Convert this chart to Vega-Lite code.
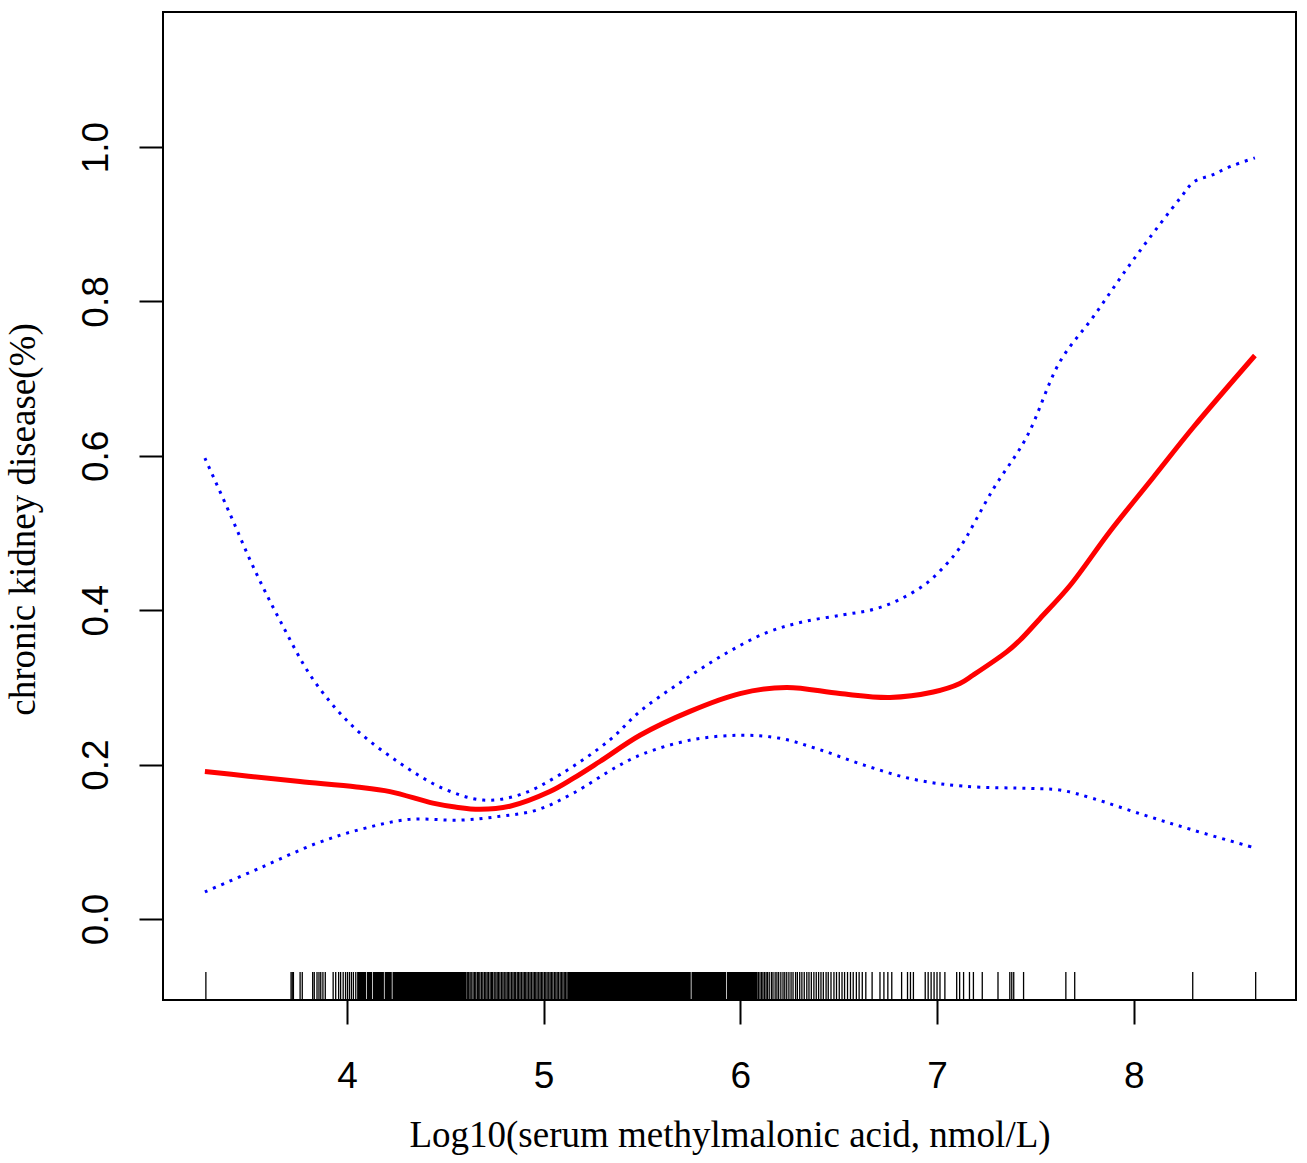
{
  "$schema": "https://vega.github.io/schema/vega-lite/v6.json",
  "width": 1133,
  "height": 988,
  "autosize": "none",
  "padding": {"left": 163, "top": 12, "right": 11, "bottom": 163},
  "background": "white",
  "config": {
    "view": {"stroke": "black", "strokeWidth": 2},
    "axis": {"grid": false, "domain": false, "labelOverlap": false, "labelBound": false, "labelFlush": false}
  },
  "datasets": {
    "fit": [
      {"x": 3.278, "y": 0.191}, {"x": 3.5, "y": 0.185}, {"x": 3.761, "y": 0.178}, {"x": 4.049, "y": 0.171},
      {"x": 4.219, "y": 0.165}, {"x": 4.437, "y": 0.150}, {"x": 4.55, "y": 0.145}, {"x": 4.676, "y": 0.142},
      {"x": 4.829, "y": 0.146}, {"x": 5.032, "y": 0.165}, {"x": 5.15, "y": 0.182}, {"x": 5.286, "y": 0.204},
      {"x": 5.49, "y": 0.238}, {"x": 5.744, "y": 0.269}, {"x": 5.998, "y": 0.292}, {"x": 6.235, "y": 0.300},
      {"x": 6.506, "y": 0.292}, {"x": 6.761, "y": 0.287}, {"x": 6.981, "y": 0.294}, {"x": 7.116, "y": 0.305},
      {"x": 7.184, "y": 0.316}, {"x": 7.354, "y": 0.346}, {"x": 7.421, "y": 0.361}, {"x": 7.523, "y": 0.389},
      {"x": 7.676, "y": 0.432}, {"x": 7.879, "y": 0.502}, {"x": 8.099, "y": 0.572}, {"x": 8.303, "y": 0.637},
      {"x": 8.616, "y": 0.730}
    ],
    "ci": [
      {"bound": "upper", "x": 3.278, "y": 0.597}, {"bound": "upper", "x": 3.405, "y": 0.525},
      {"bound": "upper", "x": 3.524, "y": 0.456}, {"bound": "upper", "x": 3.659, "y": 0.387},
      {"bound": "upper", "x": 3.829, "y": 0.310}, {"bound": "upper", "x": 4.032, "y": 0.249},
      {"bound": "upper", "x": 4.269, "y": 0.202}, {"bound": "upper", "x": 4.490, "y": 0.169},
      {"bound": "upper", "x": 4.693, "y": 0.154}, {"bound": "upper", "x": 4.880, "y": 0.161},
      {"bound": "upper", "x": 5.083, "y": 0.187}, {"bound": "upper", "x": 5.337, "y": 0.232},
      {"bound": "upper", "x": 5.49, "y": 0.269}, {"bound": "upper", "x": 5.693, "y": 0.306},
      {"bound": "upper", "x": 5.913, "y": 0.342}, {"bound": "upper", "x": 6.134, "y": 0.371},
      {"bound": "upper", "x": 6.320, "y": 0.385}, {"bound": "upper", "x": 6.523, "y": 0.394},
      {"bound": "upper", "x": 6.676, "y": 0.401}, {"bound": "upper", "x": 6.811, "y": 0.414},
      {"bound": "upper", "x": 6.947, "y": 0.435}, {"bound": "upper", "x": 7.049, "y": 0.460},
      {"bound": "upper", "x": 7.116, "y": 0.481}, {"bound": "upper", "x": 7.286, "y": 0.557},
      {"bound": "upper", "x": 7.455, "y": 0.624}, {"bound": "upper", "x": 7.625, "y": 0.722},
      {"bound": "upper", "x": 7.794, "y": 0.780}, {"bound": "upper", "x": 7.964, "y": 0.842},
      {"bound": "upper", "x": 8.133, "y": 0.900}, {"bound": "upper", "x": 8.243, "y": 0.936},
      {"bound": "upper", "x": 8.306, "y": 0.955}, {"bound": "upper", "x": 8.40, "y": 0.964},
      {"bound": "upper", "x": 8.493, "y": 0.975}, {"bound": "upper", "x": 8.616, "y": 0.986},
      {"bound": "lower", "x": 3.278, "y": 0.035}, {"bound": "lower", "x": 3.558, "y": 0.066},
      {"bound": "lower", "x": 3.846, "y": 0.098}, {"bound": "lower", "x": 4.083, "y": 0.117},
      {"bound": "lower", "x": 4.320, "y": 0.129}, {"bound": "lower", "x": 4.574, "y": 0.128},
      {"bound": "lower", "x": 4.778, "y": 0.133}, {"bound": "lower", "x": 4.964, "y": 0.141},
      {"bound": "lower", "x": 5.151, "y": 0.163}, {"bound": "lower", "x": 5.371, "y": 0.197},
      {"bound": "lower", "x": 5.507, "y": 0.214}, {"bound": "lower", "x": 5.752, "y": 0.232},
      {"bound": "lower", "x": 5.998, "y": 0.238}, {"bound": "lower", "x": 6.201, "y": 0.234},
      {"bound": "lower", "x": 6.396, "y": 0.220}, {"bound": "lower", "x": 6.633, "y": 0.199},
      {"bound": "lower", "x": 6.879, "y": 0.181}, {"bound": "lower", "x": 7.133, "y": 0.172},
      {"bound": "lower", "x": 7.481, "y": 0.169}, {"bound": "lower", "x": 7.625, "y": 0.167},
      {"bound": "lower", "x": 7.794, "y": 0.156}, {"bound": "lower", "x": 8.048, "y": 0.135},
      {"bound": "lower", "x": 8.303, "y": 0.115}, {"bound": "lower", "x": 8.616, "y": 0.092}
    ],
    "rugDense": [
      {"x": 4.06}, {"x": 4.07}, {"x": 4.08}, {"x": 4.09}, {"x": 4.11}, {"x": 4.12}, {"x": 4.14}, {"x": 4.15},
      {"x": 4.16}, {"x": 4.17}, {"x": 4.18}, {"x": 4.20}, {"x": 4.21}, {"x": 4.22}, {"x": 4.24}, {"x": 4.25},
      {"x": 4.26}, {"x": 4.27}, {"x": 4.28}, {"x": 4.29}, {"x": 4.30}, {"x": 4.31}, {"x": 4.32}, {"x": 4.33},
      {"x": 4.34}, {"x": 4.35}, {"x": 4.36}, {"x": 4.37}, {"x": 4.38}, {"x": 4.39}, {"x": 4.40}, {"x": 4.41},
      {"x": 4.42}, {"x": 4.43}, {"x": 4.44}, {"x": 4.45}, {"x": 4.46}, {"x": 4.47}, {"x": 4.48}, {"x": 4.49},
      {"x": 4.50}, {"x": 4.51}, {"x": 4.52}, {"x": 4.53}, {"x": 4.54}, {"x": 4.55}, {"x": 4.56}, {"x": 4.57},
      {"x": 4.58}, {"x": 4.59}, {"x": 4.60},
      {"x": 5.13}, {"x": 5.14}, {"x": 5.15}, {"x": 5.16}, {"x": 5.17}, {"x": 5.18}, {"x": 5.19}, {"x": 5.20},
      {"x": 5.21}, {"x": 5.22}, {"x": 5.23}, {"x": 5.24}, {"x": 5.25}, {"x": 5.26}, {"x": 5.27}, {"x": 5.28},
      {"x": 5.29}, {"x": 5.30}, {"x": 5.31}, {"x": 5.32}, {"x": 5.33}, {"x": 5.34}, {"x": 5.35}, {"x": 5.36},
      {"x": 5.37}, {"x": 5.38}, {"x": 5.39}, {"x": 5.40}, {"x": 5.41}, {"x": 5.42}, {"x": 5.43}, {"x": 5.44},
      {"x": 5.45}, {"x": 5.46}, {"x": 5.47}, {"x": 5.48}, {"x": 5.49}, {"x": 5.50}, {"x": 5.51}, {"x": 5.52},
      {"x": 5.53}, {"x": 5.54}, {"x": 5.55}, {"x": 5.56}, {"x": 5.57}, {"x": 5.58}, {"x": 5.59}, {"x": 5.60},
      {"x": 5.61}, {"x": 5.62}, {"x": 5.63}, {"x": 5.64}, {"x": 5.65}, {"x": 5.66}, {"x": 5.67}, {"x": 5.68},
      {"x": 5.69}, {"x": 5.70}, {"x": 5.71}, {"x": 5.72}, {"x": 5.73}, {"x": 5.74}, {"x": 5.76}, {"x": 5.77},
      {"x": 5.78}, {"x": 5.79}, {"x": 5.80}, {"x": 5.81}, {"x": 5.82}, {"x": 5.83}, {"x": 5.84}, {"x": 5.85},
      {"x": 5.86}, {"x": 5.87}, {"x": 5.88}, {"x": 5.89}, {"x": 5.90}, {"x": 5.91}, {"x": 5.92}, {"x": 5.94},
      {"x": 5.95}, {"x": 5.96}, {"x": 5.97}, {"x": 5.98}, {"x": 5.99}, {"x": 6.00}, {"x": 6.01}, {"x": 6.02},
      {"x": 6.03}, {"x": 6.04}, {"x": 6.05}, {"x": 6.06}, {"x": 6.07}, {"x": 6.08}
    ],
    "rugThin": [
      {"x": 3.283}, {"x": 3.716}, {"x": 3.722}, {"x": 3.728}, {"x": 3.762}, {"x": 3.773}, {"x": 3.826},
      {"x": 3.834}, {"x": 3.848}, {"x": 3.858}, {"x": 3.867}, {"x": 3.878}, {"x": 3.890}, {"x": 3.930},
      {"x": 3.943}, {"x": 3.958}, {"x": 3.968}, {"x": 3.981}, {"x": 3.993}, {"x": 4.003}, {"x": 4.013},
      {"x": 4.023}, {"x": 4.033}, {"x": 4.045},
      {"x": 4.612}, {"x": 4.619}, {"x": 4.626}, {"x": 4.632}, {"x": 4.641}, {"x": 4.648}, {"x": 4.655},
      {"x": 4.663}, {"x": 4.670}, {"x": 4.676}, {"x": 4.684}, {"x": 4.691}, {"x": 4.699}, {"x": 4.706},
      {"x": 4.713}, {"x": 4.720}, {"x": 4.728}, {"x": 4.735}, {"x": 4.741}, {"x": 4.749}, {"x": 4.757},
      {"x": 4.764}, {"x": 4.771}, {"x": 4.778}, {"x": 4.786}, {"x": 4.793}, {"x": 4.800}, {"x": 4.808},
      {"x": 4.815}, {"x": 4.822}, {"x": 4.829}, {"x": 4.837}, {"x": 4.844}, {"x": 4.851}, {"x": 4.858},
      {"x": 4.866}, {"x": 4.873}, {"x": 4.880}, {"x": 4.887}, {"x": 4.895}, {"x": 4.902}, {"x": 4.909},
      {"x": 4.916}, {"x": 4.924}, {"x": 4.931}, {"x": 4.938}, {"x": 4.946}, {"x": 4.953}, {"x": 4.960},
      {"x": 4.967}, {"x": 4.975}, {"x": 4.982}, {"x": 4.989}, {"x": 4.996}, {"x": 5.004}, {"x": 5.011},
      {"x": 5.018}, {"x": 5.026}, {"x": 5.033}, {"x": 5.040}, {"x": 5.047}, {"x": 5.055}, {"x": 5.062},
      {"x": 5.069}, {"x": 5.076}, {"x": 5.084}, {"x": 5.091}, {"x": 5.098}, {"x": 5.105}, {"x": 5.112},
      {"x": 5.119},
      {"x": 6.092}, {"x": 6.100}, {"x": 6.108}, {"x": 6.115}, {"x": 6.123}, {"x": 6.131}, {"x": 6.138},
      {"x": 6.147}, {"x": 6.158}, {"x": 6.166}, {"x": 6.177}, {"x": 6.186}, {"x": 6.195}, {"x": 6.206},
      {"x": 6.217}, {"x": 6.226}, {"x": 6.236}, {"x": 6.247}, {"x": 6.258}, {"x": 6.268}, {"x": 6.281},
      {"x": 6.290}, {"x": 6.302}, {"x": 6.313}, {"x": 6.325}, {"x": 6.338}, {"x": 6.349}, {"x": 6.361},
      {"x": 6.374}, {"x": 6.386}, {"x": 6.398}, {"x": 6.410}, {"x": 6.422}, {"x": 6.436}, {"x": 6.447},
      {"x": 6.461}, {"x": 6.476}, {"x": 6.489}, {"x": 6.503}, {"x": 6.517}, {"x": 6.530}, {"x": 6.545},
      {"x": 6.560}, {"x": 6.574}, {"x": 6.590}, {"x": 6.604}, {"x": 6.620}, {"x": 6.638},
      {"x": 6.67}, {"x": 6.71}, {"x": 6.73}, {"x": 6.75}, {"x": 6.77}, {"x": 6.82}, {"x": 6.85},
      {"x": 6.865}, {"x": 6.88}, {"x": 6.94}, {"x": 6.955}, {"x": 6.97}, {"x": 6.985}, {"x": 7.00},
      {"x": 7.015}, {"x": 7.04}, {"x": 7.10}, {"x": 7.115}, {"x": 7.135}, {"x": 7.165}, {"x": 7.185},
      {"x": 7.23}, {"x": 7.31}, {"x": 7.37}, {"x": 7.38}, {"x": 7.39}, {"x": 7.44}, {"x": 7.655},
      {"x": 7.70}, {"x": 8.30}, {"x": 8.62}
    ]
  },
  "encoding": {
    "x": {
      "field": "x",
      "type": "quantitative",
      "scale": {"domain": [3.065, 8.825], "nice": false, "zero": false},
      "axis": {
        "values": [4, 5, 6, 7, 8],
        "format": "d",
        "labelFont": "Liberation Sans",
        "labelFontSize": 37,
        "labelColor": "black",
        "labelPadding": 34,
        "tickSize": 24,
        "tickWidth": 2,
        "tickColor": "black",
        "title": "Log10(serum methylmalonic acid, nmol/L)",
        "titleFont": "Liberation Serif",
        "titleFontSize": 37,
        "titleFontWeight": "normal",
        "titleColor": "black",
        "titleBaseline": "alphabetic",
        "titleY": 146
      }
    }
  },
  "layer": [
    {
      "data": {"name": "rugDense"},
      "mark": {"type": "rule", "color": "black", "strokeWidth": 3.2},
      "encoding": {
        "y": {"datum": -0.0687, "type": "quantitative"},
        "y2": {"datum": -0.105}
      }
    },
    {
      "data": {"name": "rugThin"},
      "mark": {"type": "rule", "color": "black", "strokeWidth": 1.3},
      "encoding": {
        "y": {"datum": -0.0687, "type": "quantitative"},
        "y2": {"datum": -0.105}
      }
    },
    {
      "data": {"name": "fit"},
      "mark": {"type": "line", "color": "#FF0000", "strokeWidth": 5, "interpolate": "catmull-rom"},
      "encoding": {
        "y": {
          "field": "y",
          "type": "quantitative",
          "scale": {"domain": [-0.105, 1.175], "nice": false, "zero": false},
          "axis": {
            "values": [0, 0.2, 0.4, 0.6, 0.8, 1.0],
            "format": ".1f",
            "labelFont": "Liberation Sans",
            "labelFontSize": 37,
            "labelColor": "black",
            "labelAngle": 270,
            "labelAlign": "center",
            "labelBaseline": "alphabetic",
            "labelPadding": 32,
            "tickSize": 24,
            "tickWidth": 2,
            "tickColor": "black",
            "title": "chronic kidney disease(%)",
            "titleFont": "Liberation Serif",
            "titleFontSize": 37,
            "titleFontWeight": "normal",
            "titleColor": "black",
            "titleAngle": 270,
            "titleAlign": "center",
            "titleBaseline": "alphabetic",
            "titleX": -129,
            "titleY": 507
          }
        }
      }
    },
    {
      "data": {"name": "ci"},
      "mark": {"type": "line", "color": "#0000FF", "strokeWidth": 3, "strokeDash": [3, 6], "strokeCap": "butt", "interpolate": "catmull-rom"},
      "encoding": {
        "y": {"field": "y", "type": "quantitative"},
        "detail": {"field": "bound", "type": "nominal"}
      }
    }
  ]
}
